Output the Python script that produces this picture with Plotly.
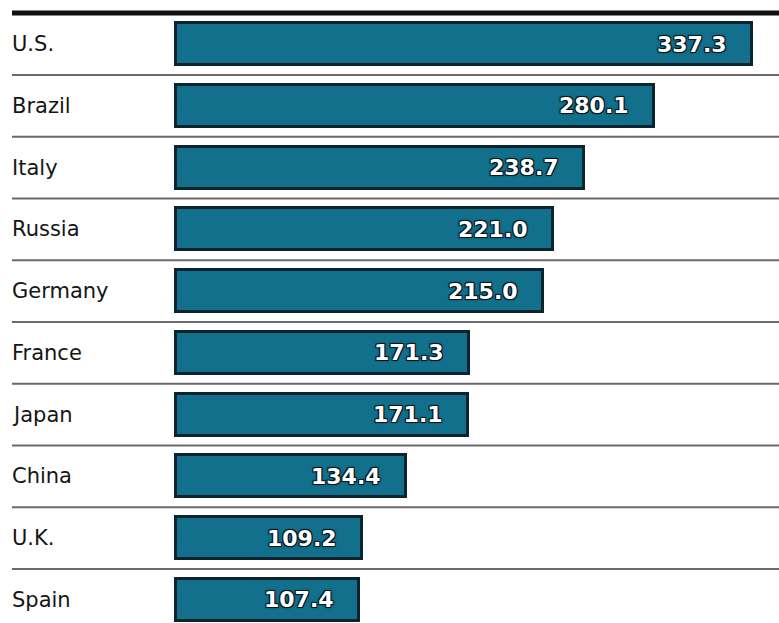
import plotly.graph_objects as go

# Countries and their values, top to bottom
countries = ["U.S.", "Brazil", "Italy", "Russia", "Germany",
             "France", "Japan", "China", "U.K.", "Spain"]
values = [337.3, 280.1, 238.7, 221.0, 215.0, 171.3, 171.1, 134.4, 109.2, 107.4]

W, H = 779, 623
rows = list(range(len(countries)))

bar_fill = "#12708c"
bar_edge = "#0a2530"
outline = ("1px 1px 0 #06161d, -1px -1px 0 #06161d, "
           "1px -1px 0 #06161d, -1px 1px 0 #06161d, 0 0 3px #06161d")

fig = go.Figure()
fig.add_trace(go.Bar(
    x=values,
    y=rows,
    orientation="h",
    width=0.68,
    marker=dict(color=bar_fill, line=dict(color=bar_edge, width=3)),
    hoverinfo="skip",
))

annotations = []
for i, (name, v) in enumerate(zip(countries, values)):
    # country name on the left of each row
    annotations.append(dict(
        xref="paper", yref="y", x=10 / W, y=i,
        text=name, showarrow=False, xanchor="left", yanchor="middle",
        font=dict(family="DejaVu Sans", size=21, color="#151515"),
    ))
    # value printed inside the end of its bar
    annotations.append(dict(
        xref="x", yref="y", x=v, y=i,
        text=f"{v:.1f}", showarrow=False, xanchor="right", yanchor="middle",
        xshift=-23,
        font=dict(family="DejaVu Sans", size=22, color="white",
                  weight="bold", shadow=outline),
    ))

shapes = [
    # heavy rule across the top
    dict(type="line", xref="paper", yref="paper", x0=12 / W, x1=1,
         y0=1, y1=1, line=dict(color="#111111", width=5)),
]
# thin separators between rows
for i in rows[:-1]:
    shapes.append(dict(type="line", xref="paper", yref="y", x0=12 / W, x1=1,
                       y0=i + 0.5, y1=i + 0.5,
                       line=dict(color="#6a6a6a", width=2)))

px_per_unit = (752 - 176) / 337.3
fig.update_layout(
    width=W, height=H,
    margin=dict(l=0, r=0, t=13, b=0),
    paper_bgcolor="white", plot_bgcolor="white",
    showlegend=False,
    xaxis=dict(range=[-176 / px_per_unit, (W - 176) / px_per_unit],
               visible=False, fixedrange=True),
    yaxis=dict(range=[9.376, -0.502], visible=False, fixedrange=True),
    annotations=annotations,
    shapes=shapes,
    bargap=0,
)

fig.write_html("out.html")
